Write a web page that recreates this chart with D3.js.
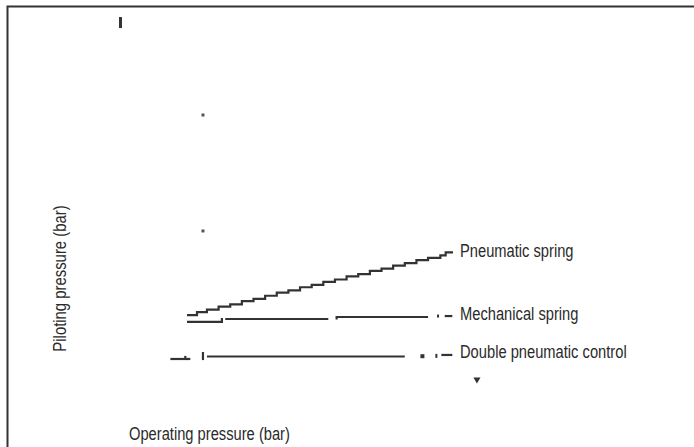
<!DOCTYPE html>
<html>
<head>
<meta charset="utf-8">
<script src="https://cdn.jsdelivr.net/npm/d3@7"></script>
<style>
  html, body { margin: 0; padding: 0; background: #fff; }
  svg { display: block; }
  text { font-family: "Liberation Sans Narrow", "Arial Narrow", "Liberation Sans", sans-serif; fill: #2a2a2a; }
</style>
</head>
<body>
<svg id="chart" width="694" height="447"></svg>
<script>
// ---- Data (operating pressure x, piloting pressure y) ----
const pneumaticX = [2.0, 2.3, 2.6, 2.95, 3.3, 3.65, 4.0, 4.35, 4.7, 5.05, 5.4, 5.75, 6.1, 6.45, 6.8, 7.15, 7.5, 7.85, 8.2, 8.55, 8.9, 9.25, 9.62, 9.78, 10.0];
const pneumaticY = [4.25, 4.45, 4.6, 4.8, 4.95, 5.15, 5.3, 5.5, 5.7, 5.85, 6.05, 6.2, 6.4, 6.55, 6.75, 6.9, 7.1, 7.25, 7.45, 7.6, 7.8, 7.95, 8.1, 8.3, 8.3];

const mechanicalSegments = [
  [[2.0, 3.81], [3.05, 3.81], [3.05, 4.06]],
  [[3.15, 4.0], [6.25, 4.0]],
  [[6.5, 3.97], [6.5, 4.13], [9.25, 4.13]],
  [[9.75, 4.19], [9.98, 4.19]]
];
const mechanicalDots = [[9.55, 4.19]];

const doubleSegments = [
  [[1.5, 1.42], [2.1, 1.42]],
  [[1.95, 1.42], [1.95, 1.62]],
  [[2.48, 1.35], [2.48, 1.87]],
  [[2.6, 1.58], [8.55, 1.58]],
  [[9.65, 1.68], [9.98, 1.68]]
];
const doubleDots = [[9.08, 1.6], [9.5, 1.62]];

const strayDots = [[2.48, 17.16], [2.48, 9.68]];
const topTick = [[0, 23.48], [0, 22.77]];
const triangleMarks = [[10.72, 0.1]];

const seriesLabels = ["Pneumatic spring", "Mechanical spring", "Double pneumatic control"];
const labelY = [8.0, 3.94, 1.48];
const xTitle = "Operating pressure (bar)";
const yTitle = "Piloting pressure (bar)";

// ---- Scales ----
const x = d3.scaleLinear().domain([0, 10]).range([120.5, 453]);
const y = d3.scaleLinear().domain([0, 24]).range([381, 9]);

const svg = d3.select("#chart");
const ink = "#333";
const sw = 2.2;
const squeeze = 0.84; // condensed type look

// frame
svg.append("path")
  .attr("d", "M7.5,447 L7.5,6.5 L694,6.5")
  .attr("fill", "none").attr("stroke", ink).attr("stroke-width", 2);

const line = d3.line().x(d => x(d[0])).y(d => y(d[1]));
const stepLine = d3.line().x(d => x(d[0])).y(d => y(d[1])).curve(d3.curveStepAfter);

// pneumatic spring (stepped)
svg.append("path")
  .datum(pneumaticX.map((v, i) => [v, pneumaticY[i]]))
  .attr("d", stepLine)
  .attr("fill", "none").attr("stroke", ink).attr("stroke-width", sw);

// mechanical spring
svg.selectAll("path.mech").data(mechanicalSegments).join("path")
  .attr("class", "mech").attr("d", line)
  .attr("fill", "none").attr("stroke", ink).attr("stroke-width", sw);
svg.selectAll("rect.mechdot").data(mechanicalDots).join("rect")
  .attr("class", "mechdot")
  .attr("x", d => x(d[0]) - 1).attr("y", d => y(d[1]) - 1.5)
  .attr("width", 2).attr("height", 3).attr("fill", ink);

// double pneumatic control
svg.selectAll("path.dbl").data(doubleSegments).join("path")
  .attr("class", "dbl").attr("d", line)
  .attr("fill", "none").attr("stroke", ink).attr("stroke-width", sw);
svg.selectAll("rect.dbldot").data(doubleDots).join("rect")
  .attr("class", "dbldot")
  .attr("x", (d, i) => x(d[0]) - (i === 0 ? 2 : 1)).attr("y", d => y(d[1]) - 2)
  .attr("width", (d, i) => i === 0 ? 4 : 2).attr("height", 4).attr("fill", ink);

// stray marks
svg.selectAll("rect.stray").data(strayDots).join("rect")
  .attr("class", "stray")
  .attr("x", d => x(d[0]) - 1.5).attr("y", d => y(d[1]) - 1.5)
  .attr("width", 3).attr("height", 3).attr("fill", "#555");
svg.append("path").datum(topTick).attr("d", line)
  .attr("fill", "none").attr("stroke", ink).attr("stroke-width", 3);
svg.selectAll("path.tri").data(triangleMarks).join("path")
  .attr("class", "tri")
  .attr("d", d => d3.symbol(d3.symbolTriangle, 22)())
  .attr("transform", d => `translate(${x(d[0])},${y(d[1])}) rotate(180)`)
  .attr("fill", ink);

// labels
svg.selectAll("text.lab").data(seriesLabels).join("text")
  .attr("class", "lab")
  .attr("transform", (d, i) => `translate(${x(10) + 7},${y(labelY[i])}) scale(${squeeze},1)`)
  .style("font-size", "17.5px")
  .text(d => d);

svg.append("text")
  .attr("transform", `translate(129,440) scale(${squeeze},1)`)
  .style("font-size", "17.5px")
  .text(xTitle);

svg.append("text")
  .attr("transform", `translate(65.5,278.5) rotate(-90) scale(${squeeze + 0.01},1)`)
  .attr("text-anchor", "middle")
  .style("font-size", "17.5px")
  .text(yTitle);
</script>
</body>
</html>
